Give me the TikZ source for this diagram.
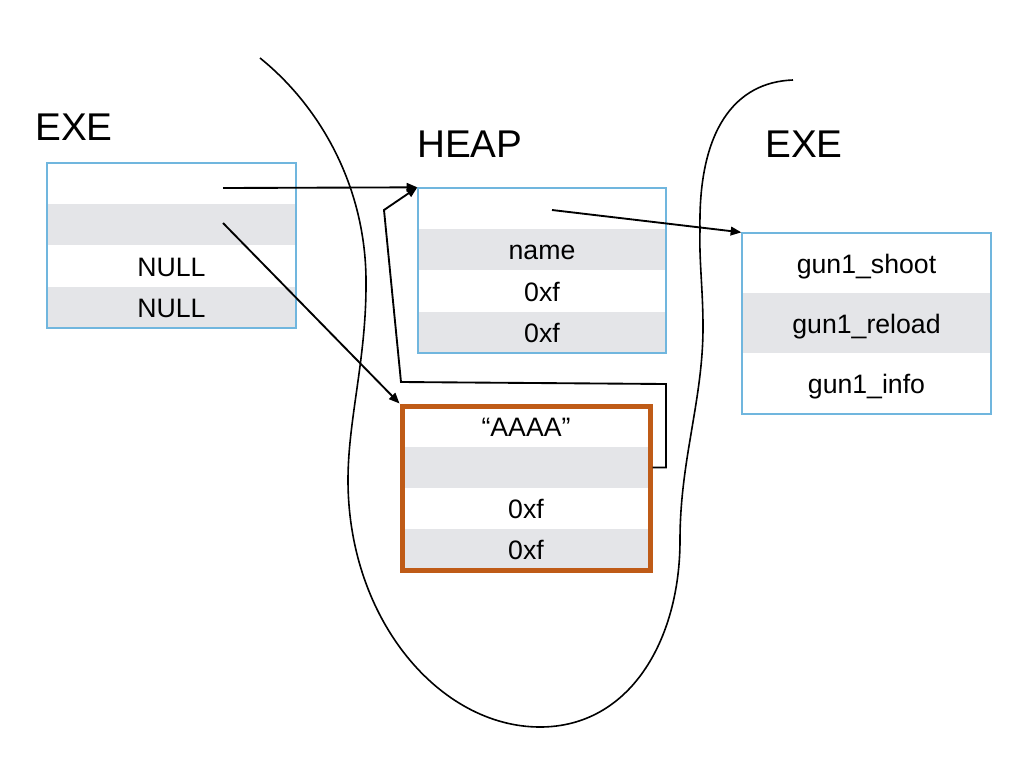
\documentclass[tikz,border=0pt]{standalone}
\usepackage{fontspec}
\setmainfont{Liberation Sans}
\usetikzlibrary{arrows.meta,fit}
\definecolor{rowgray}{RGB}{228,229,232}
\definecolor{boxblue}{RGB}{112,182,222}
\definecolor{chunkorange}{RGB}{191,91,23}
\begin{document}
\begin{tikzpicture}[x=0.75pt,y=-0.75pt,
  cell/.style={inner sep=0pt, text height=15pt, text depth=0pt, font=\fontsize{20}{24}\selectfont},
  title/.style={inner sep=0pt, anchor=base west, font=\fontsize{29}{34}\selectfont},
  bluebox/.style={draw=boxblue, line width=1pt, inner sep=0pt},
  chunkbox/.style={draw=chunkorange, line width=3.75pt, inner sep=0pt},
  arr/.style={-{Triangle[length=8pt,width=6.5pt]}, line width=1.4pt},
  region/.style={line width=1.2pt}]
\useasboundingbox (0,0) rectangle (1024,768);
\fill[white] (0,0) rectangle (1024,768);

% left EXE box
\fill[rowgray] (47,204) rectangle (296,245);
\fill[rowgray] (47,287) rectangle (296,328);
\coordinate (e1tl) at (47,163);
\coordinate (e1br) at (296,328);
\node[bluebox, fit=(e1tl)(e1br)] (exeL) {};
\node[cell] (exeL3) at (171.5,266) {NULL};
\node[cell] (exeL4) at (171.5,307.5) {NULL};
\node[title] (lblL) at (35,140) {EXE};

% heap box
\fill[rowgray] (418,229) rectangle (666,270);
\fill[rowgray] (418,312) rectangle (666,353);
\coordinate (htl) at (418,188);
\coordinate (hbr) at (666,353);
\node[bluebox, fit=(htl)(hbr)] (heap) {};
\node[cell] (heap2) at (542,249.5) {name};
\node[cell] (heap3) at (542,291) {0xf};
\node[cell] (heap4) at (542,332.5) {0xf};
\node[title] (lblH) at (417,157) {HEAP};

% chunk (orange)
\fill[rowgray] (402,447) rectangle (650,488);
\fill[rowgray] (402,529) rectangle (650,570);
\coordinate (ctl) at (402,406);
\coordinate (cbr) at (650,570);
\node[chunkbox, fit=(ctl)(cbr)] (chunk) {};
\node[cell] (chunk1) at (526,426.5) {“AAAA”};
\coordinate (chunk2) at (526,467.5);
\node[cell] (chunk3) at (526,508.5) {0xf};
\node[cell] (chunk4) at (526,549.5) {0xf};

% right EXE box
\fill[rowgray] (742,293) rectangle (991,353);
\coordinate (ftl) at (742,233);
\coordinate (fbr) at (991,414);
\node[bluebox, fit=(ftl)(fbr)] (funcs) {};
\node[cell] (funcs1) at (866.5,263) {gun1\_shoot};
\node[cell] (funcs2) at (866.5,323) {gun1\_reload};
\node[cell] (funcs3) at (866.5,383.5) {gun1\_info};
\node[title] (lblR) at (765,157) {EXE};

% region curve
\draw[region] (260,58)
  .. controls (322,108) and (367,190) .. (366,285)
  .. controls (366,360) and (348,420) .. (348,480)
  .. controls (348,620) and (440,727) .. (540,727)
  .. controls (630,727) and (680,640) .. (680,540)
  .. controls (680,460) and (703,400) .. (703,327)
  .. controls (703,290) and (699,260) .. (700,230)
  .. controls (698,130) and (735,82) .. (793,80);

% pointers
\coordinate (s1) at (223,188);
\coordinate (s2) at (223,223);
\coordinate (s3) at (552,210);
\draw[arr] (s1) -- (heap.north west);
\draw[arr] (s2) -- (chunk.north west);
\draw[arr] (s3) -- (funcs.north west);
\draw[arr] (chunk.east |- chunk2) -- (666,467.5) -- (666,384) -- (401,382) -- (384,210) -- (heap.north west);
\end{tikzpicture}
\end{document}
